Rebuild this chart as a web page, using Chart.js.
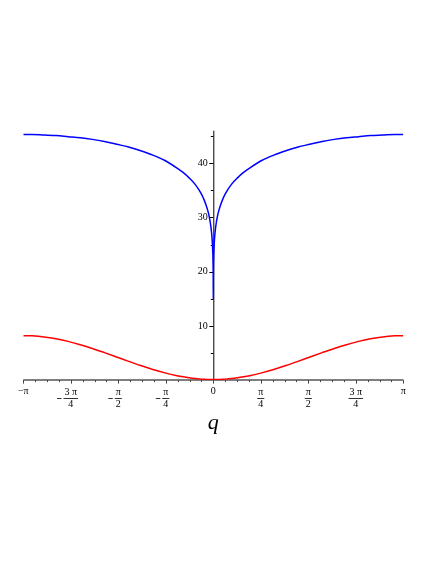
<!DOCTYPE html>
<html>
<head>
<meta charset="utf-8">
<script src="https://cdn.jsdelivr.net/npm/chart.js@4.4.1/dist/chart.umd.min.js"></script>
<style>
  body { margin: 0; background: #fff; }
  canvas { display: block; }
</style>
</head>
<body>
<canvas id="plot" width="436" height="564"></canvas>
<script>
// sample points of q (radians)
const qValues = [
  -3.1416, -3.0, -2.8, -2.6, -2.4, -2.2, -2.0, -1.8, -1.6, -1.4, -1.2, -1.0, -0.8, -0.6,
  -0.5, -0.4, -0.3, -0.2, -0.15, -0.1, -0.07, -0.04, -0.02, -0.01, -0.005, -0.001, -0.0002,
  0.0002, 0.001, 0.005, 0.01, 0.02, 0.04, 0.07, 0.1, 0.15, 0.2, 0.3, 0.4, 0.5,
  0.6, 0.8, 1.0, 1.2, 1.4, 1.6, 1.8, 2.0, 2.2, 2.4, 2.6, 2.8, 3.0, 3.1416
];
const blueValues = [
  45.3, 45.3, 45.2, 45.1, 44.9, 44.7, 44.4, 44.0, 43.5, 43.0, 42.3, 41.5, 40.5, 39.1,
  38.3, 37.3, 36.1, 34.4, 33.2, 31.6, 30.3, 28.3, 26.1, 24.0, 22.1, 18.2, 15.0,
  15.0, 18.2, 22.1, 24.0, 26.1, 28.3, 30.3, 31.6, 33.2, 34.4, 36.1, 37.3, 38.3,
  39.1, 40.5, 41.5, 42.3, 43.0, 43.5, 44.0, 44.4, 44.7, 44.9, 45.1, 45.2, 45.3, 45.3
];
const redValues = [
  8.2, 8.16, 7.97, 7.62, 7.14, 6.53, 5.84, 5.07, 4.27, 3.46, 2.68, 1.96, 1.33, 0.81,
  0.60, 0.42, 0.28, 0.18, 0.145, 0.12, 0.11, 0.103, 0.1, 0.1, 0.1, 0.1, 0.1,
  0.1, 0.1, 0.1, 0.1, 0.1, 0.103, 0.11, 0.12, 0.145, 0.18, 0.28, 0.42, 0.60,
  0.81, 1.33, 1.96, 2.68, 3.46, 4.27, 5.07, 5.84, 6.53, 7.14, 7.62, 7.97, 8.16, 8.2
];

// axis ticks
const xTickSteps = [-4, -3, -2, -1, 0, 1, 2, 3, 4];   // in units of pi/4
const xTickNum = ["\u2212\u03c0", "3 \u03c0", "\u03c0", "\u03c0", "0", "\u03c0", "\u03c0", "3 \u03c0", "\u03c0"];
const xTickDen = ["", "4", "2", "4", "", "4", "2", "4", ""];
const yTickValues = [10, 20, 30, 40];
const yMinorValues = [5, 15, 25, 35, 45];

const serif = "'Liberation Serif', 'DejaVu Serif', serif";

const mapleAxes = {
  id: "mapleAxes",
  beforeDatasetsDraw(chart) {
    const ctx = chart.ctx;
    const xs = chart.scales.x, ys = chart.scales.y;
    const x0 = xs.getPixelForValue(0);
    const y0 = ys.getPixelForValue(0);
    ctx.save();

    // x axis
    ctx.strokeStyle = "#555";
    ctx.lineWidth = 1.5;
    ctx.beginPath();
    ctx.moveTo(xs.left, y0);
    ctx.lineTo(xs.right, y0);
    ctx.stroke();

    // y axis
    ctx.strokeStyle = "#000";
    ctx.lineWidth = 1;
    ctx.beginPath();
    ctx.moveTo(x0 + 0.5, y0);
    ctx.lineTo(x0 + 0.5, ys.top);
    ctx.stroke();

    // x ticks: major every pi/4, minor every pi/16
    ctx.strokeStyle = "#444";
    ctx.lineWidth = 1;
    for (let i = -16; i <= 16; i++) {
      const px = Math.round(xs.getPixelForValue(i * Math.PI / 16)) + 0.5;
      const len = i % 4 === 0 ? 3.5 : 2;
      ctx.beginPath();
      ctx.moveTo(px, y0);
      ctx.lineTo(px, y0 + len);
      ctx.stroke();
    }

    // y ticks
    ctx.strokeStyle = "#000";
    yTickValues.forEach(v => {
      const py = Math.round(ys.getPixelForValue(v)) + 0.5;
      ctx.beginPath();
      ctx.moveTo(x0, py);
      ctx.lineTo(x0 - 4, py);
      ctx.stroke();
    });
    yMinorValues.forEach(v => {
      const py = Math.round(ys.getPixelForValue(v)) + 0.5;
      ctx.beginPath();
      ctx.moveTo(x0, py);
      ctx.lineTo(x0 - 2.5, py);
      ctx.stroke();
    });

    // y labels
    ctx.fillStyle = "#000";
    ctx.font = "10px " + serif;
    ctx.textAlign = "right";
    ctx.textBaseline = "middle";
    yTickValues.forEach(v => {
      ctx.fillText(String(v), x0 - 5.5, ys.getPixelForValue(v));
    });

    // x labels
    ctx.textAlign = "center";
    ctx.textBaseline = "middle";
    xTickSteps.forEach((k, i) => {
      const px = xs.getPixelForValue(k * Math.PI / 4);
      if (!xTickDen[i]) {
        ctx.fillText(xTickNum[i], px, y0 + 11.5);
        return;
      }
      const w = ctx.measureText(xTickNum[i]).width + 2;
      ctx.fillText(xTickNum[i], px, y0 + 12.5);
      ctx.fillText(xTickDen[i], px, y0 + 24.5);
      ctx.fillRect(px - w / 2, y0 + 18, w, 0.8);
      if (k < 0) {
        ctx.fillRect(px - w / 2 - 6.5, y0 + 18, 4.5, 0.8);
      }
    });

    // axis title
    ctx.font = "italic 22px " + serif;
    ctx.textBaseline = "alphabetic";
    ctx.fillText("q", x0, y0 + 49);

    ctx.restore();
  }
};

new Chart(document.getElementById("plot"), {
  type: "line",
  data: {
    datasets: [
      {
        data: qValues.map((q, i) => ({ x: q, y: blueValues[i] })),
        borderColor: "#0000ff",
        borderWidth: 1.5,
        pointRadius: 0,
        cubicInterpolationMode: "monotone",
        fill: false,
      },
      {
        data: qValues.map((q, i) => ({ x: q, y: redValues[i] })),
        borderColor: "#ff0000",
        borderWidth: 1.5,
        pointRadius: 0,
        cubicInterpolationMode: "monotone",
        fill: false,
      },
    ],
  },
  options: {
    responsive: false,
    devicePixelRatio: 1,
    animation: false,
    layout: {
      padding: { left: 23.3, right: 32.7, top: 130.7, bottom: 183.9 },
    },
    scales: {
      x: { type: "linear", min: -Math.PI, max: Math.PI, display: false },
      y: { type: "linear", min: 0, max: 46, display: false },
    },
    plugins: {
      legend: { display: false },
      tooltip: { enabled: false },
    },
  },
  plugins: [mapleAxes],
});
</script>
</body>
</html>
